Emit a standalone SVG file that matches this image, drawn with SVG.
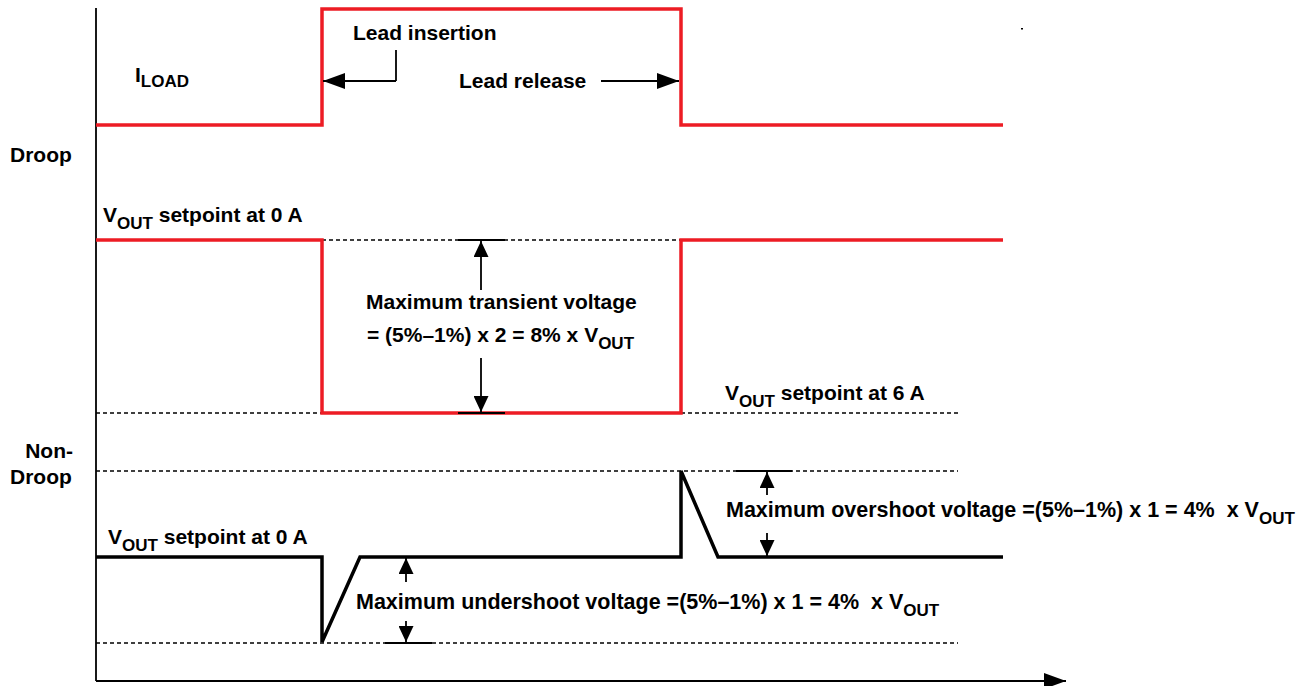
<svg xmlns="http://www.w3.org/2000/svg" width="1304" height="686" viewBox="0 0 1304 686">
<defs>
<style>
text{font-family:"Liberation Sans",Arial,sans-serif;font-weight:bold;font-size:21px;fill:#000;white-space:pre}
.sub{font-size:17px}
.wide{font-size:21.5px}
.red{fill:none;stroke:#ed1c24;stroke-width:3.5}
.blk{fill:none;stroke:#000;stroke-width:3.5}
.dot{fill:none;stroke:#000;stroke-width:1.5;stroke-dasharray:4 3}
.ln{fill:none;stroke:#000;stroke-width:1.8}
.tick{fill:none;stroke:#000;stroke-width:2}
</style>
<marker id="ahM" viewBox="0 0 16 15" refX="16" refY="7.5" markerWidth="16" markerHeight="15" markerUnits="userSpaceOnUse" orient="auto"><path d="M0,0 L16,7.5 L0,15 z" fill="#000"/></marker>
<marker id="ahL" viewBox="0 0 22 16" refX="22" refY="8" markerWidth="22" markerHeight="16" markerUnits="userSpaceOnUse" orient="auto"><path d="M0,0 L22,8 L0,16 z" fill="#000"/></marker>
</defs>
<rect width="1304" height="686" fill="#fff"/>
<g id="axes">
<line class="ln" x1="96" y1="8" x2="96" y2="681"/>
<line class="ln" x1="96" y1="681" x2="1066" y2="681" marker-end="url(#ahL)"/>
<rect x="1021" y="28" width="2" height="1.5" fill="#000"/>
</g>
<g id="guides">
<line class="dot" x1="322" y1="240" x2="681" y2="240"/>
<line class="dot" x1="96" y1="413" x2="322" y2="413"/>
<line class="dot" x1="681" y1="413" x2="958" y2="413"/>
<line class="dot" x1="96" y1="471" x2="958" y2="471"/>
<line class="dot" x1="96" y1="643" x2="958" y2="643"/>
</g>
<g id="iload">
<polyline class="red" points="96,125 322,125 322,9 681,9 681,125 1003,125"/>
<text x="135" y="82">I<tspan class="sub" dy="5">LOAD</tspan></text>
</g>
<g id="droop">
<text x="10" y="162">Droop</text>
<polyline class="red" points="96,240 322,240 322,413 681,413 681,240 1003,240"/>
<text x="103" y="222">V<tspan class="sub" dy="7">OUT</tspan><tspan dy="-7"> setpoint at 0 A</tspan></text>
<text x="725" y="400">V<tspan class="sub" dy="7">OUT</tspan><tspan dy="-7"> setpoint at 6 A</tspan></text>
</g>
<g id="nondroop">
<text x="73" y="458" text-anchor="end">Non-</text>
<text x="10" y="484">Droop</text>
<polyline class="blk" points="96,557 322,557 322,642 360,557 681,557 681,471 718,557 1003,557"/>
<text x="108" y="544">V<tspan class="sub" dy="7">OUT</tspan><tspan dy="-7"> setpoint at 0 A</tspan></text>
</g>
<g id="connectors">
<line class="ln" x1="396" y1="50" x2="396" y2="81"/>
<line class="ln" x1="396" y1="81" x2="323" y2="81" marker-end="url(#ahL)"/>
<line class="ln" x1="601" y1="81" x2="679" y2="81" marker-end="url(#ahL)"/>
<line class="tick" x1="458" y1="240" x2="505" y2="240"/>
<line class="tick" x1="458" y1="413" x2="505" y2="413"/>
<line class="ln" x1="481" y1="290" x2="481" y2="241" marker-end="url(#ahM)"/>
<line class="ln" x1="481" y1="358" x2="481" y2="412" marker-end="url(#ahM)"/>
<line class="tick" x1="736" y1="471" x2="792" y2="471"/>
<line class="tick" x1="736" y1="557" x2="792" y2="557"/>
<line class="ln" x1="767" y1="495" x2="767" y2="472" marker-end="url(#ahM)"/>
<line class="ln" x1="767" y1="533" x2="767" y2="556" marker-end="url(#ahM)"/>
<line class="tick" x1="385" y1="643" x2="432" y2="643"/>
<line class="ln" x1="406" y1="582" x2="406" y2="558" marker-end="url(#ahM)"/>
<line class="ln" x1="406" y1="621" x2="406" y2="642" marker-end="url(#ahM)"/>
</g>
<g id="labels">
<text x="353" y="40">Lead insertion</text>
<text x="459" y="88">Lead release</text>
<text x="366" y="309">Maximum transient voltage</text>
<text x="367" y="342">= (5%–1%) x 2 = 8% x V<tspan class="sub" dy="7">OUT</tspan></text>
<text class="wide" x="726" y="517">Maximum overshoot voltage =(5%–1%) x 1 = 4%  x V<tspan class="sub" dy="7">OUT</tspan></text>
<text class="wide" x="356" y="609">Maximum undershoot voltage =(5%–1%) x 1 = 4%  x V<tspan class="sub" dy="7">OUT</tspan></text>
</g>
</svg>
